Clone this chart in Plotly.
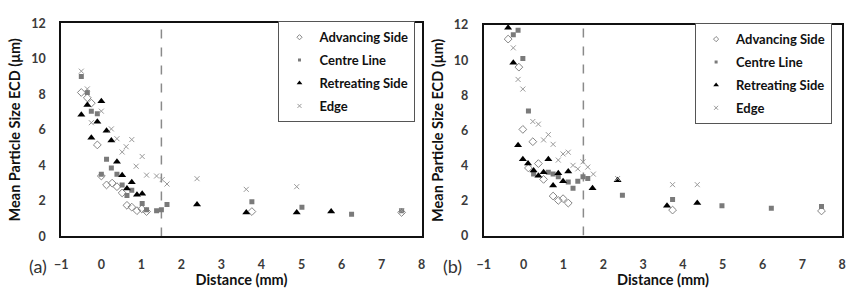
import plotly.graph_objects as go

# ---------------- data: panel (a) ----------------
a_adv_x = [-0.5, -0.35, -0.25, -0.1, 0.0, 0.13, 0.27, 0.39, 0.52, 0.64, 0.76, 0.89, 1.01, 1.13, 3.76, 7.5]
a_adv_y = [8.1, 7.8, 7.5, 5.15, 3.4, 2.9, 3.0, 2.8, 2.45, 1.75, 1.65, 1.45, 1.55, 1.4, 1.4, 1.35]
a_cen_x = [-0.5, -0.35, -0.25, -0.1, 0.13, 0.25, 0.0, 0.39, 0.52, 0.76, 0.64, 1.02, 1.13, 1.38, 1.5, 1.64, 3.76, 5.01, 6.25, 7.5]
a_cen_y = [9.0, 8.1, 7.05, 6.9, 4.35, 3.85, 3.5, 3.5, 2.9, 2.6, 2.3, 1.85, 1.5, 1.45, 1.5, 1.8, 1.95, 1.65, 1.25, 1.45]
a_ret_x = [0.0, -0.35, -0.5, -0.1, 0.13, -0.25, 0.25, 0.39, 0.52, 0.76, 0.64, 0.89, 1.02, 2.39, 3.62, 4.88, 5.74]
a_ret_y = [7.6, 7.4, 6.85, 6.45, 5.95, 5.55, 5.4, 4.2, 3.45, 3.05, 2.7, 2.35, 2.4, 1.8, 1.35, 1.35, 1.4]
a_edg_x = [-0.5, -0.35, 0.0, -0.25, 0.25, 0.39, 0.76, 0.62, 0.52, 1.02, 0.87, 1.13, 1.38, 1.52, 1.64, 2.39, 3.62, 4.88, 7.5]
a_edg_y = [9.3, 8.3, 7.05, 6.4, 6.05, 5.5, 5.45, 5.05, 4.75, 4.5, 3.95, 3.45, 3.4, 3.2, 2.95, 3.25, 2.65, 2.8, 1.45]

# ---------------- data: panel (b) ----------------
b_adv_x = [-0.39, -0.12, -0.02, 0.23, 0.37, 0.12, 0.5, 0.74, 0.87, 0.99, 1.12, 3.74, 7.48]
b_adv_y = [11.2, 9.6, 6.05, 5.35, 4.1, 3.85, 3.2, 2.25, 2.0, 2.1, 1.85, 1.45, 1.4]
b_cen_x = [-0.14, -0.26, -0.02, 0.12, 0.25, 0.62, 0.74, 0.87, 1.12, 1.36, 1.49, 1.61, 1.24, 2.48, 3.74, 4.98, 6.22, 7.48]
b_cen_y = [11.7, 11.45, 10.1, 7.1, 3.5, 3.6, 3.5, 3.35, 3.05, 3.1, 3.35, 3.25, 2.7, 2.3, 2.05, 1.7, 1.55, 1.65]
b_ret_x = [-0.39, -0.26, -0.14, -0.02, 0.11, 0.62, 0.25, 0.37, 0.5, 0.87, 1.12, 0.99, 0.74, 1.73, 2.36, 3.6, 4.36]
b_ret_y = [11.85, 9.85, 5.15, 4.35, 4.1, 4.35, 3.7, 3.4, 3.6, 3.55, 3.65, 3.1, 2.85, 2.7, 3.15, 1.7, 1.85]
b_edg_x = [-0.26, -0.14, -0.02, 0.23, 0.37, 0.62, 0.5, 0.74, 0.99, 1.12, 0.87, 1.24, 1.49, 1.36, 1.61, 1.75, 2.36, 3.74, 4.36]
b_edg_y = [10.7, 8.9, 8.35, 6.5, 6.35, 5.75, 5.45, 5.2, 4.65, 4.75, 4.3, 4.0, 4.2, 3.8, 3.9, 3.5, 3.25, 2.9, 2.9]

series_names = ["Advancing Side", "Centre Line", "Retreating Side", "Edge"]
x_ticks = [-1, 0, 1, 2, 3, 4, 5, 6, 7, 8]
y_ticks = [0, 2, 4, 6, 8, 10, 12]
boundary_x = 1.5
y_range = [0, 12]
x_range = [-1, 8]

FONT = "Lato"
GRAY = "#858585"
styles = [
    dict(symbol="diamond-open", size=6, color=GRAY, line=dict(width=1, color=GRAY)),
    dict(symbol="square", size=5, color="#7a7a7a"),
    dict(symbol="triangle-up", size=7, color="#000000"),
    dict(symbol="x-thin", size=5, color="#999999", line=dict(width=1, color="#999999")),
]
legend_styles = [
    dict(symbol="diamond-open", size=4, color=GRAY, line=dict(width=1, color=GRAY)),
    dict(symbol="square", size=3, color="#7a7a7a"),
    dict(symbol="triangle-up", size=5, color="#000000"),
    dict(symbol="x-thin", size=4, color="#999999", line=dict(width=1, color="#999999")),
]

fig = go.Figure()
panels = [
    ("x", "y", "legend", [(a_adv_x, a_adv_y), (a_cen_x, a_cen_y), (a_ret_x, a_ret_y), (a_edg_x, a_edg_y)]),
    ("x2", "y2", "legend2", [(b_adv_x, b_adv_y), (b_cen_x, b_cen_y), (b_ret_x, b_ret_y), (b_edg_x, b_edg_y)]),
]
for xa, ya, lg, data in panels:
    for name, (xs, ys), st in zip(series_names, data, styles):
        fig.add_trace(go.Scatter(x=xs, y=ys, mode="markers", name=name, marker=st,
                                 xaxis=xa, yaxis=ya, showlegend=False))
    for name, st in zip(series_names, legend_styles):
        fig.add_trace(go.Scatter(x=[None], y=[None], mode="markers", name=name, marker=st,
                                 xaxis=xa, yaxis=ya, legend=lg, legendgroup=lg + name, showlegend=True))

axis_common = dict(showgrid=False, zeroline=False, showline=True, mirror=True,
                   linecolor="#111111", linewidth=2, ticks="",
                   tickfont=dict(family=FONT, size=12.5, color="#3a3a3a", weight="bold"))
title_font = dict(family=FONT, size=14.5, color="#111111", weight="bold")
legend_font = dict(family=FONT, size=13, color="#111111", weight="bold")

fig.update_layout(
    width=862, height=288, margin=dict(l=0, r=0, t=0, b=0),
    paper_bgcolor="white", plot_bgcolor="white",
    xaxis=dict(domain=[55 / 862, 420 / 862], range=x_range, tickvals=x_ticks, anchor="y",
               title=dict(text="Distance (mm)", font=title_font, standoff=1), ticklabelstandoff=16, **axis_common),
    yaxis=dict(domain=[1 - 241 / 288, 1 - 16 / 288], range=y_range, tickvals=y_ticks, anchor="x",
               title=dict(text="Mean Particle Size ECD (μm)", font=title_font, standoff=7), ticklabelstandoff=11, **axis_common),
    xaxis2=dict(domain=[483 / 862, 846 / 862], range=x_range, tickvals=x_ticks, anchor="y2",
                title=dict(text="Distance (mm)", font=title_font, standoff=1), ticklabelstandoff=16, **axis_common),
    yaxis2=dict(domain=[1 - 240 / 288, 1 - 18 / 288], range=y_range, tickvals=y_ticks, anchor="x2",
                title=dict(text="Mean Particle Size ECD (μm)", font=title_font, standoff=7), ticklabelstandoff=11, **axis_common),
    legend=dict(x=275 / 862, y=1 - 14 / 288, xanchor="left", yanchor="top", bordercolor="#555555", borderwidth=1,
                bgcolor="white", font=legend_font, itemwidth=30, tracegroupgap=3),
    legend2=dict(x=697 / 862, y=1 - 16 / 288, xanchor="left", yanchor="top", bordercolor="#555555", borderwidth=1,
                 bgcolor="white", font=legend_font, itemwidth=30, tracegroupgap=3),
)

for xa, ya in [("x", "y"), ("x2", "y2")]:
    fig.add_shape(type="line", xref=xa, yref=ya, x0=boundary_x, x1=boundary_x, y0=y_range[0], y1=y_range[1],
                  line=dict(color="#8a8a8a", width=1.5, dash="dash"), layer="below")

fig.add_annotation(text="(a)", xref="paper", yref="paper", x=31 / 862, y=1 - 272 / 288, showarrow=False,
                   xanchor="center", yanchor="middle", font=dict(family=FONT, size=18, color="#333333"))
fig.add_annotation(text="(b)", xref="paper", yref="paper", x=451 / 862, y=1 - 272 / 288, showarrow=False,
                   xanchor="center", yanchor="middle", font=dict(family=FONT, size=18, color="#333333"))

fig.write_html("out.html")
